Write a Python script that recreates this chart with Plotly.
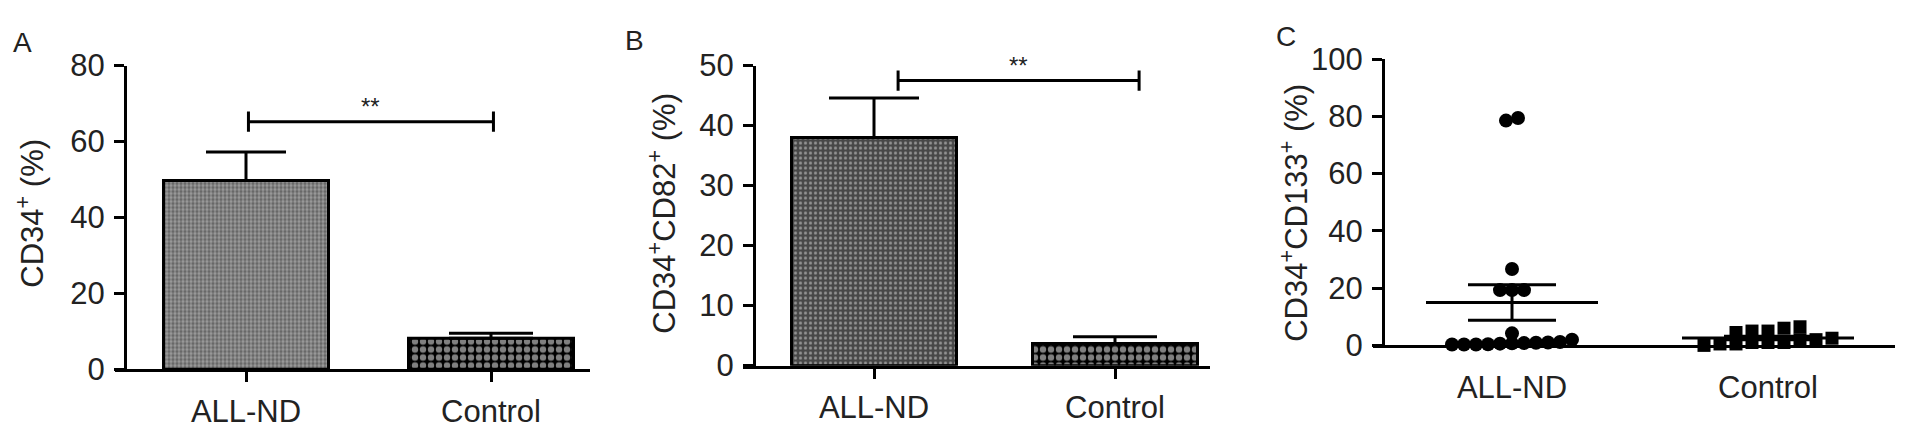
import plotly.graph_objects as go

# values
categories = ["ALL-ND", "Control"]

cd34_mean = [49.7, 8.2]
cd34_sem = [7.5, 1.3]
cd34_sig = 65.2

cd82_mean = [38.0, 3.7]
cd82_sem = [6.6, 1.1]
cd82_sig = 47.5

cd133_all_nd = [79.4, 78.5, 26.7, 19.3, 19.3, 19.3, 4.2,
                0.3, 0.3, 0.8, 1.0, 0.6, 1.2, 0.9, 2.0, 0.7, 0.4, 0.3]
cd133_control = [2.5, 6.5, 0.5, 5.0, 1.0, 4.5, 0.0, 1.0, 2.0, 1.0, 5.0, 0.5, 6.0, 2.0]
cd133_mean = [15.0, 2.6]
cd133_sem = [6.2, 0.6]

W, H = 1913, 441
OFF = 8  # the page body adds an 8 px margin around the figure
FONT = "Liberation Sans, Arial, sans-serif"
FS = 31


def px(x):
    return (x - OFF) / W


def py(y):
    return 1 - (y - OFF) / H


def swarm(values, step_px, unit_px, tol=2.6):
    # simple beeswarm: points with close values are spread side by side
    order = sorted(range(len(values)), key=lambda i: values[i])
    groups, cur = [], []
    for i in order:
        if cur and values[i] - values[cur[0]] > tol:
            groups.append(cur)
            cur = []
        cur.append(i)
    if cur:
        groups.append(cur)
    offs = [0.0] * len(values)
    for g in groups:
        n = len(g)
        for k, i in enumerate(g):
            offs[i] = (k - (n - 1) / 2) * step_px / unit_px
    return offs


fig = go.Figure()

# panel geometry in screen pixels
panels = {
    "": dict(x0=115, x1=590, yx=125, c0=246, c1=491, top=52, bot=382, ymax=80, dtick=20),
    "2": dict(x0=743, x1=1210, yx=754, c0=874, c1=1115, top=52, bot=378, ymax=50, dtick=10),
    "3": dict(x0=1373, x1=1895, yx=1383, c0=1512, c1=1768, top=45, bot=356, ymax=100, dtick=20),
}

for k, p in panels.items():
    unit = p["c1"] - p["c0"]
    p["unit"] = unit
    xr = [(p["x0"] - p["c0"]) / unit, (p["x1"] - p["c0"]) / unit]
    fig.update_layout({
        f"xaxis{k}": dict(
            domain=[px(p["x0"]), px(p["x1"])], range=xr, anchor=f"y{k}",
            tickvals=[0, 1], ticktext=categories,
            showline=True, linecolor="black", linewidth=3,
            ticks="" if k == "3" else "outside", ticklen=10, tickwidth=3, tickcolor="black",
            ticklabelstandoff=12 if k == "3" else 2,
            showgrid=False, zeroline=False,
            tickfont=dict(family=FONT, size=FS, color="#222"),
        ),
        f"yaxis{k}": dict(
            domain=[py(p["bot"]), py(p["top"])], range=[0, p["ymax"]],
            anchor="free", position=px(p["yx"]), dtick=p["dtick"],
            showline=True, linecolor="black", linewidth=3,
            ticks="outside", ticklen=10, tickwidth=3, tickcolor="black",
            ticklabelstandoff=3,
            showgrid=False, zeroline=False,
            tickfont=dict(family=FONT, size=FS, color="#222"),
        ),
    })

# bar patterns
pat_gray_a = dict(shape=".", fgcolor="#333333", bgcolor="#9c9c9c", size=4, solidity=0.55)
pat_gray_b = dict(shape=".", fgcolor="#dddddd", bgcolor="#484848", size=5, solidity=0.3)
pat_check = dict(shape=".", fgcolor="white", bgcolor="black", size=8, solidity=0.5)


def bar_panel(k, means, sems, pats, cap_px, sig, sig_shift):
    p = panels[k]
    bw = 165 / p["unit"]
    for i, (m, s, pat) in enumerate(zip(means, sems, pats)):
        fig.add_trace(go.Bar(
            x=[i], y=[m], width=bw, xaxis=f"x{k}", yaxis=f"y{k}",
            marker=dict(color=pat["bgcolor"], pattern=pat, line=dict(color="black", width=3)),
            error_y=dict(type="data", symmetric=False, array=[s], arrayminus=[0],
                         color="black", thickness=3, width=cap_px[i]),
            showlegend=False, hoverinfo="skip",
        ))
    cap = 11 / (p["bot"] - p["top"]) * p["ymax"]
    fig.add_trace(go.Scatter(
        x=[0 + sig_shift, 1 + sig_shift], y=[sig, sig], mode="lines",
        line=dict(color="black", width=3), xaxis=f"x{k}", yaxis=f"y{k}",
        error_y=dict(type="data", array=[cap, cap], color="black", thickness=3, width=0),
        showlegend=False, hoverinfo="skip", cliponaxis=False,
    ))
    fig.add_annotation(
        x=0.5 + sig_shift, y=sig, xref=f"x{k}", yref=f"y{k}", text="**",
        showarrow=False, xanchor="center", yanchor="bottom", yshift=0,
        font=dict(family=FONT, size=24, color="#222"),
    )


bar_panel("", cd34_mean, cd34_sem, [pat_gray_a, pat_check], [40, 42], cd34_sig, 0.01)
bar_panel("2", cd82_mean, cd82_sem, [pat_gray_b, pat_check], [45, 42], cd82_sig, 0.1)

# panel C scatter
pc = panels["3"]
offs_a = swarm(cd133_all_nd, 12, pc["unit"])
offs_c = swarm(cd133_control, 16, pc["unit"])
fig.add_trace(go.Scatter(
    x=[0 + o for o in offs_a], y=cd133_all_nd, mode="markers", xaxis="x3", yaxis="y3",
    marker=dict(symbol="circle", size=14, color="black"),
    showlegend=False, hoverinfo="skip", cliponaxis=False,
))
fig.add_trace(go.Scatter(
    x=[1 + o for o in offs_c], y=cd133_control, mode="markers", xaxis="x3", yaxis="y3",
    marker=dict(symbol="square", size=13, color="black"),
    showlegend=False, hoverinfo="skip", cliponaxis=False,
))
half = 86 / pc["unit"]
for i, (m, s) in enumerate(zip(cd133_mean, cd133_sem)):
    fig.add_trace(go.Scatter(
        x=[i - half, i + half], y=[m, m], mode="lines", xaxis="x3", yaxis="y3",
        line=dict(color="black", width=3), showlegend=False, hoverinfo="skip", cliponaxis=False,
    ))
    fig.add_trace(go.Scatter(
        x=[i], y=[m], mode="markers", xaxis="x3", yaxis="y3", marker=dict(size=1, color="black"),
        error_y=dict(type="data", array=[s], color="black", thickness=3, width=44),
        showlegend=False, hoverinfo="skip", cliponaxis=False,
    ))

# panel letters and y titles
for letter, x, y in [("A", 22, 27), ("B", 634, 25), ("C", 1286, 20)]:
    fig.add_annotation(x=px(x), y=py(y), xref="paper", yref="paper", text=letter,
                       xanchor="center", yanchor="middle",
                       showarrow=False, font=dict(family=FONT, size=28, color="#222"))
for text, x, y in [("CD34<sup>+</sup> (%)", 30, 213),
                   ("CD34<sup>+</sup>CD82<sup>+</sup> (%)", 662, 213),
                   ("CD34<sup>+</sup>CD133<sup>+</sup> (%)", 1294, 212)]:
    fig.add_annotation(x=px(x), y=py(y), xref="paper", yref="paper", text=text,
                       textangle=-90, showarrow=False, xanchor="center", yanchor="middle",
                       font=dict(family=FONT, size=FS, color="#222"))

fig.update_layout(
    width=W, height=H, autosize=False,
    margin=dict(l=0, r=0, t=0, b=0),
    plot_bgcolor="white", paper_bgcolor="white",
    barmode="overlay",
)

fig.write_html("out.html")
